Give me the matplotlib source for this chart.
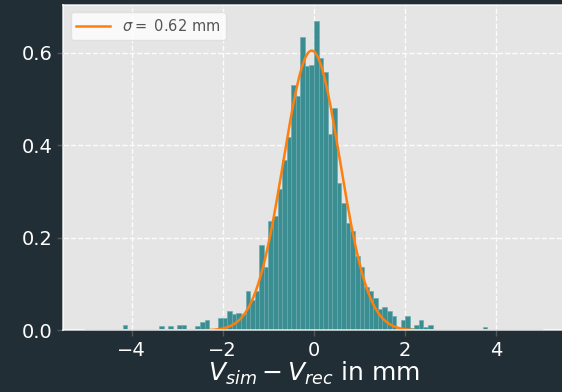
import numpy as np
import matplotlib
matplotlib.use("Agg")
import matplotlib.pyplot as plt

# ---------------------------------------------------------------------------
# Data: normalised histogram of V_sim - V_rec (mm)
# ---------------------------------------------------------------------------
bin_lo, bin_hi, n_bins = -5.0, 5.0, 100

density = [
    0.000, 0.000, 0.002, 0.000, 0.000, 0.002, 0.002, 0.000, 0.012, 0.000,   # -5.0 .. -4.1
    0.002, 0.002, 0.000, 0.000, 0.000, 0.002, 0.009, 0.002, 0.009, 0.000,   # -4.0 .. -3.1
    0.012, 0.012, 0.000, 0.002, 0.009, 0.019, 0.023, 0.003, 0.000, 0.027,   # -3.0 .. -2.1
    0.027, 0.043, 0.035, 0.038, 0.036, 0.086, 0.065, 0.086, 0.185, 0.137,   # -2.0 .. -1.1
    0.236, 0.247, 0.306, 0.369, 0.418, 0.531, 0.508, 0.634, 0.571, 0.575,   # -1.0 .. -0.1
    0.670, 0.590, 0.559, 0.425, 0.481, 0.318, 0.276, 0.232, 0.216, 0.161,   #  0.0 ..  0.9
    0.137, 0.095, 0.086, 0.071, 0.047, 0.050, 0.043, 0.031, 0.003, 0.023,   #  1.0 ..  1.9
    0.031, 0.005, 0.011, 0.023, 0.007, 0.011, 0.002, 0.002, 0.002, 0.002,   #  2.0 ..  2.9
    0.002, 0.002, 0.002, 0.000, 0.002, 0.000, 0.002, 0.008, 0.002, 0.000,   #  3.0 ..  3.9
    0.000, 0.000, 0.000, 0.000, 0.000, 0.000, 0.002, 0.000, 0.002, 0.002,   #  4.0 ..  4.9
]

# Gaussian fit parameters
fit_amp = 0.605
fit_mu = -0.05
fit_sigma = 0.62

# ---------------------------------------------------------------------------
# Style
# ---------------------------------------------------------------------------
fig_bg = "#222e35"
ax_bg = "#e5e5e5"
bar_color = "#3a8e91"
line_color = "#ff7f0e"

fig = plt.figure(figsize=(5.62, 3.92), dpi=100, facecolor=fig_bg)
ax = fig.add_axes([0.1125, 0.157, 0.8925, 0.830])
ax.set_facecolor(ax_bg)

edges = np.linspace(bin_lo, bin_hi, n_bins + 1)
centers = 0.5 * (edges[:-1] + edges[1:])
ax.hist(centers, bins=edges, weights=density, color=bar_color,
        edgecolor="#6aaaac", linewidth=0.4)

xs = np.linspace(bin_lo, bin_hi, 600)
ax.plot(xs, fit_amp * np.exp(-0.5 * ((xs - fit_mu) / fit_sigma) ** 2),
        color=line_color, lw=1.8,
        label=rf"$\sigma = $ {fit_sigma:.2f} mm")

ax.grid(True, color="white", ls="--", lw=1.0, alpha=0.9)
ax.set_axisbelow(True)
for side in ("top", "left", "bottom", "right"):
    ax.spines[side].set_color("white")
    ax.spines[side].set_linewidth(1.2)
    ax.spines[side].set_alpha(0.8)

ax.set_yticks([0.0, 0.2, 0.4, 0.6])
ax.set_xticks([-4, -2, 0, 2, 4])
ax.tick_params(colors="#555555", labelcolor="white", labelsize=14,
               length=4, width=1)

ax.set_xlabel(r"$V_{sim} - V_{rec}$ in mm", color="white", fontsize=18,
              labelpad=0)

leg = ax.legend(loc="upper left", fontsize=10.5, framealpha=0.8,
                facecolor="white", edgecolor="#dddddd", handlelength=2.3)
for t in leg.get_texts():
    t.set_color("#555555")

fig.savefig("out.png", dpi=100, facecolor=fig_bg)
